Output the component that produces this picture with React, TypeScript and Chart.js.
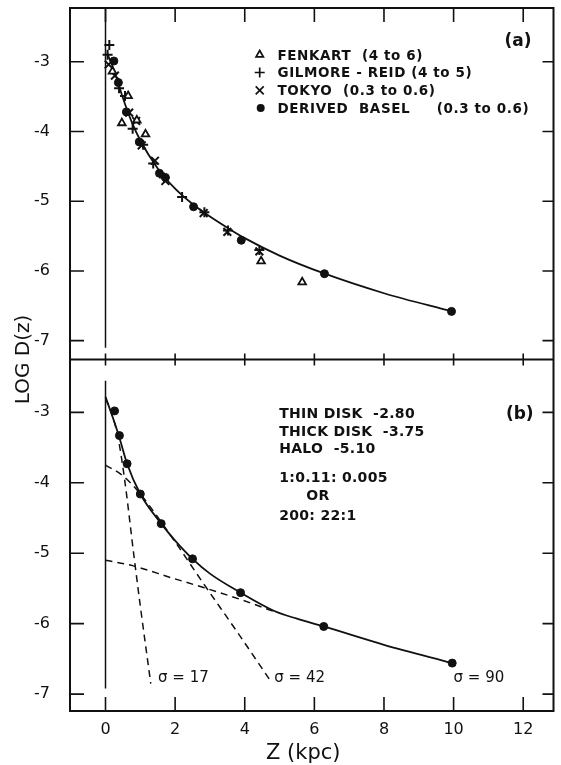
import React, { useEffect, useRef } from 'react';
import { Chart, registerables } from 'chart.js';

Chart.register(...registerables);

// ---- axes ----
const X_TICKS = [0, 2, 4, 6, 8, 10, 12];
const Y_TICKS = [-7, -6, -5, -4, -3];
const X_MIN = -1.02;
const X_MAX = 12.87;
const TOP_MIN = -7.27;
const TOP_MAX = -2.23;
const BOT_MIN = -7.24;
const BOT_MAX = -2.25;

// ---- panel (a) observations: [z (kpc), log D(z)] ----
const fenkart: [number, number][] = [
  [0.2, -3.14], [0.47, -3.88], [0.65, -3.49], [0.9, -3.84], [1.15, -4.04], [4.47, -5.86], [5.65, -6.16],
];
const gilmoreReid: [number, number][] = [
  [0.11, -2.76], [0.06, -2.9], [0.39, -3.38], [0.56, -3.49], [0.78, -3.96], [1.08, -4.19],
  [1.37, -4.46], [1.68, -4.66], [2.2, -4.94], [2.84, -5.16], [3.52, -5.42], [4.42, -5.7],
];
const tokyo: [number, number][] = [
  [0.09, -3.04], [0.27, -3.2], [0.68, -3.73], [0.88, -3.85], [1.04, -4.2], [1.42, -4.42],
  [1.72, -4.71], [2.82, -5.17], [3.5, -5.44], [4.42, -5.72],
];
const basel: [number, number][] = [
  [0.24, -2.99], [0.37, -3.3], [0.6, -3.72], [0.97, -4.15], [1.55, -4.6], [1.72, -4.66],
  [2.53, -5.08], [3.9, -5.56], [6.29, -6.04], [9.94, -6.58],
];
const fitA: [number, number][] = [
  [0.05, -2.88], [0.25, -3.13], [0.5, -3.52], [0.75, -3.86], [1.0, -4.13], [1.5, -4.53], [2.0, -4.82],
  [2.5, -5.04], [3.0, -5.22], [3.5, -5.38], [4.0, -5.53], [5.0, -5.78], [6.3, -6.04], [8.0, -6.32], [9.94, -6.58],
];

// ---- panel (b) model decomposition ----
const baselB: [number, number][] = [
  [0.26, -2.98], [0.4, -3.33], [0.62, -3.73], [1.0, -4.16], [1.6, -4.58], [2.5, -5.08],
  [3.88, -5.56], [6.27, -6.04], [9.96, -6.56],
];
const fitB: [number, number][] = [
  [0, -2.78], [0.2, -3.06], [0.4, -3.36], [0.62, -3.73], [1.0, -4.16], [1.6, -4.58], [2.0, -4.82],
  [2.5, -5.08], [3.0, -5.29], [3.88, -5.56], [4.85, -5.82], [5.5, -5.93], [6.27, -6.04], [8.0, -6.3], [9.96, -6.56],
];
const thinDisk: [number, number][] = [
  [0, -2.8], [0.2, -3.05], [0.35, -3.33], [0.54, -3.92], [0.82, -5.05], [1.0, -5.75], [1.3, -6.85],
];
const thickDisk: [number, number][] = [
  [0, -3.75], [0.5, -3.9], [1.0, -4.16], [2.0, -4.84], [2.8, -5.42], [3.8, -6.13], [4.75, -6.82],
];
const halo: [number, number][] = [
  [0, -5.1], [0.8, -5.18], [1.9, -5.35], [2.7, -5.47], [3.9, -5.66], [4.85, -5.83],
];
const zeroTop: [number, number][] = [[0, -2.23], [0, -7.1]];
const zeroBot: [number, number][] = [[0, -2.55], [0, -6.92]];

// ---- text ----
const LEGEND_LABELS = ['FENKART  (4 to 6)', 'GILMORE - REID (4 to 5)', 'TOKYO  (0.3 to 0.6)', 'DERIVED  BASEL     (0.3 to 0.6)'];
const MODEL_LINES = ['THIN DISK  -2.80', 'THICK DISK  -3.75', 'HALO  -5.10', '1:0.11: 0.005', 'OR', '200: 22:1'];
const SIGMA_LABELS = ['σ = 17', 'σ = 42', 'σ = 90'];

const INK = '#111';
const FONT = '"DejaVu Sans"';

const pts = (a: [number, number][]) => a.map(([x, y]) => ({ x, y }));

function txt(ctx: CanvasRenderingContext2D, s: string, x: number, cy: number, size: number, align: CanvasTextAlign = 'left', weight = 'bold', spacing = '0px') {
  ctx.font = `${weight} ${size}px ${FONT}`;
  (ctx as any).letterSpacing = spacing;
  ctx.textAlign = align;
  ctx.textBaseline = 'alphabetic';
  ctx.fillText(s, x, cy + size * 0.365);
  (ctx as any).letterSpacing = '0px';
}

const framePlugin = {
  id: 'frame',
  afterDraw(chart: any) {
    const ctx: CanvasRenderingContext2D = chart.ctx;
    const { left, right, top, bottom } = chart.chartArea;
    const xs = chart.scales.x;
    const yt = chart.scales.yTop;
    const yb = chart.scales.yBot;
    const div = yt.bottom;
    ctx.save();
    ctx.strokeStyle = INK;
    ctx.fillStyle = INK;
    ctx.lineWidth = 2;
    ctx.strokeRect(left, top, right - left, bottom - top);
    ctx.beginPath();
    ctx.moveTo(left, div);
    ctx.lineTo(right, div);
    ctx.stroke();

    ctx.lineWidth = 1.6;
    ctx.beginPath();
    for (const v of X_TICKS) {
      const px = xs.getPixelForValue(v);
      ctx.moveTo(px, top); ctx.lineTo(px, top + 14);
      ctx.moveTo(px, div - 6); ctx.lineTo(px, div + 6);
      ctx.moveTo(px, bottom - 14); ctx.lineTo(px, bottom);
    }
    for (const s of [yt, yb]) {
      for (const v of Y_TICKS) {
        const py = s.getPixelForValue(v);
        ctx.moveTo(left, py); ctx.lineTo(left + 14, py);
        ctx.moveTo(right - 11, py); ctx.lineTo(right, py);
      }
    }
    ctx.stroke();

    // legend (a)
    const sx = xs.getPixelForValue(4.43);
    const tx = xs.getPixelForValue(4.94);
    LEGEND_LABELS.forEach((lab, i) => {
      const cy = yt.getPixelForValue(-2.9 - i * 0.255);
      ctx.lineWidth = 1.7;
      ctx.beginPath();
      if (i === 0) {
        const r = 4.2;
        ctx.moveTo(sx, cy - r);
        ctx.lineTo(sx + r * 0.87, cy + r * 0.5);
        ctx.lineTo(sx - r * 0.87, cy + r * 0.5);
        ctx.closePath();
        ctx.stroke();
      } else if (i === 1) {
        ctx.moveTo(sx - 5, cy); ctx.lineTo(sx + 5, cy);
        ctx.moveTo(sx, cy - 5); ctx.lineTo(sx, cy + 5);
        ctx.stroke();
      } else if (i === 2) {
        ctx.moveTo(sx - 4, cy - 4); ctx.lineTo(sx + 4, cy + 4);
        ctx.moveTo(sx + 4, cy - 4); ctx.lineTo(sx - 4, cy + 4);
        ctx.stroke();
      } else {
        ctx.arc(sx + 1, cy, 4, 0, Math.PI * 2);
        ctx.fill();
      }
      txt(ctx, lab, tx, cy, 13.5, 'left', 'bold', '0.6px');
    });
    txt(ctx, '(a)', xs.getPixelForValue(11.85), yt.getPixelForValue(-2.69), 17, 'center');
    txt(ctx, '(b)', xs.getPixelForValue(11.9), yb.getPixelForValue(-3.0), 17, 'center');

    // model text (b)
    const mx = xs.getPixelForValue(4.99);
    const modelY = [-3.01, -3.26, -3.51, -3.91, -4.17, -4.46];
    MODEL_LINES.forEach((lab, i) => {
      const x = i === 4 ? xs.getPixelForValue(5.77) : mx;
      txt(ctx, lab, x, yb.getPixelForValue(modelY[i]), 14, 'left', 'bold', '0.3px');
    });
    const sigX = [1.51, 4.85, 10.0];
    SIGMA_LABELS.forEach((lab, i) => {
      txt(ctx, lab, xs.getPixelForValue(sigX[i]), yb.getPixelForValue(-6.755), 15, 'left', 'normal');
    });

    // axis titles
    txt(ctx, 'Z (kpc)', xs.getPixelForValue(5.68), 751, 21, 'center', 'normal');
    ctx.save();
    ctx.translate(22, (top + bottom) / 2);
    ctx.rotate(-Math.PI / 2);
    txt(ctx, 'LOG D(z)', 0, 0, 20, 'center', 'normal');
    ctx.restore();
    ctx.restore();
  },
};

const zeroPad = (s: any) => { s.paddingTop = 0; s.paddingBottom = 0; s.paddingLeft = 0; s.paddingRight = 0; };

const yAxis = (min: number, max: number) => ({
  type: 'linear',
  position: 'left',
  stack: 'panels',
  stackWeight: 1,
  min,
  max,
  grid: { display: false, drawTicks: false },
  border: { display: false },
  ticks: { color: INK, padding: 20, font: { family: 'DejaVu Sans', size: 16 } },
  afterBuildTicks: (s: any) => { s.ticks = Y_TICKS.map((v) => ({ value: v })); },
  afterFit: (s: any) => { s.width = 70; zeroPad(s); },
});

export default function App() {
  const ref = useRef<HTMLCanvasElement>(null);
  useEffect(() => {
    if (!ref.current) return;
    const line = (data: [number, number][], yAxisID: string, dashed = false, w = 1.8) => ({
      data: pts(data), yAxisID, showLine: true, pointRadius: 0, borderColor: INK, borderWidth: w,
      borderDash: dashed ? [7, 5] : [], cubicInterpolationMode: 'monotone', fill: false,
    });
    const marks = (data: [number, number][], yAxisID: string, style: string, r: number, filled: boolean, bw = 1.8) => ({
      data: pts(data), yAxisID, showLine: false, pointStyle: style, pointRadius: r,
      pointBackgroundColor: filled ? INK : '#fff', pointBorderColor: INK, pointBorderWidth: bw,
      backgroundColor: filled ? INK : '#fff', borderColor: INK,
    });
    const chart = new Chart(ref.current, {
      type: 'scatter',
      data: {
        datasets: [
          marks(basel, 'yTop', 'circle', 4, true, 1),
          marks(fenkart, 'yTop', 'triangle', 4.4, false),
          marks(gilmoreReid, 'yTop', 'cross', 5, false, 2),
          marks(tokyo, 'yTop', 'crossRot', 5.5, false, 2),
          line(fitA, 'yTop'),
          line(zeroTop, 'yTop', false, 1.5),
          marks(baselB, 'yBot', 'circle', 4, true, 1),
          line(fitB, 'yBot'),
          line(thinDisk, 'yBot', true, 1.5),
          line(thickDisk, 'yBot', true, 1.5),
          line(halo, 'yBot', true, 1.5),
          line(zeroBot, 'yBot', false, 1.5),
        ] as any,
      },
      options: {
        animation: false,
        responsive: false,
        devicePixelRatio: 1,
        layout: { padding: { top: 8, right: -1, left: 0, bottom: 0 } },
        plugins: { legend: { display: false }, tooltip: { enabled: false } },
        scales: {
          yBot: yAxis(BOT_MIN, BOT_MAX),
          yTop: yAxis(TOP_MIN, TOP_MAX),
          x: {
            type: 'linear',
            position: 'bottom',
            min: X_MIN,
            max: X_MAX,
            grid: { display: false, drawTicks: false },
            border: { display: false },
            ticks: { color: INK, padding: 9, font: { family: 'DejaVu Sans', size: 16 } },
            afterBuildTicks: (s: any) => { s.ticks = X_TICKS.map((v) => ({ value: v })); },
            afterFit: (s: any) => { s.height = 54; zeroPad(s); },
          },
        } as any,
      },
      plugins: [framePlugin],
    } as any);
    return () => chart.destroy();
  }, []);
  return (
    <div style={{ position: 'absolute', left: 0, top: 0, width: 561, height: 765, background: '#fff' }}>
      <canvas ref={ref} width={561} height={765} />
    </div>
  );
}
